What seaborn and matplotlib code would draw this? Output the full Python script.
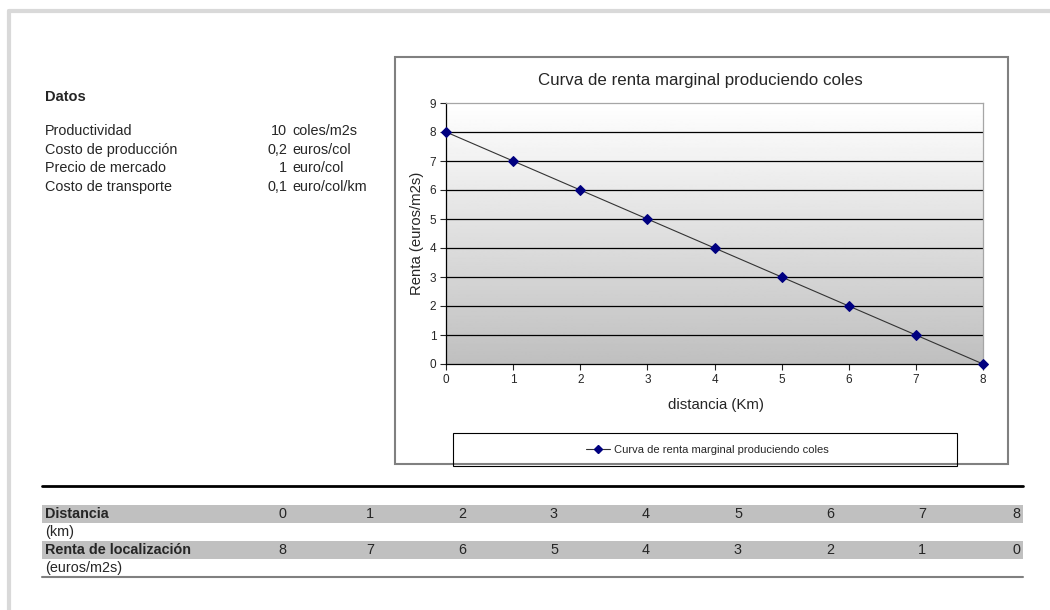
import numpy as np
import pandas as pd
import matplotlib.pyplot as plt
import seaborn as sns
from matplotlib.patches import Rectangle
from matplotlib.lines import Line2D

# datos del grafico
distancia = [0, 1, 2, 3, 4, 5, 6, 7, 8]
renta = [8, 7, 6, 5, 4, 3, 2, 1, 0]
datos_nombres = ['Productividad', 'Costo de producción', 'Precio de mercado', 'Costo de transporte']
datos_valores = ['10', '0,2', '1', '0,1']
datos_unidades = ['coles/m2s', 'euros/col', 'euro/col', 'euro/col/km']
serie = 'Curva de renta marginal produciendo coles'

sns.set_style('white')
plt.rcParams['font.family'] = ['Liberation Sans', 'DejaVu Sans']

W, H = 1050, 610
fig = plt.figure(figsize=(W / 100, H / 100), dpi=100)


def fx(x):
    return x / W


def fy(y):
    return 1 - y / H


def ftext(x, y, s, **kw):
    fig.text(fx(x), fy(y), s, va='center', **kw)


# borde de la pagina
fig.add_artist(Line2D([fx(9), 1], [fy(11), fy(11)], color='#d9d9d9', lw=3))
fig.add_artist(Line2D([fx(9), fx(9)], [fy(11), 0], color='#d9d9d9', lw=3))

# bloque de datos
ftext(45, 97, 'Datos', fontsize=10.5, fontweight='bold')
for i, (n, v, u) in enumerate(zip(datos_nombres, datos_valores, datos_unidades)):
    y = 131 + i * 18.7
    ftext(45, y, n, fontsize=10.4)
    ftext(287, y, v, fontsize=10.4, ha='right')
    ftext(292, y, u, fontsize=10.4)

# marco del grafico
fig.add_artist(Rectangle((fx(395), fy(464)), fx(1008 - 395), (464 - 57) / H,
                         transform=fig.transFigure, fill=False, ec='#808080', lw=1.5, zorder=0))
ftext(700, 80, 'Curva de renta marginal produciendo coles', fontsize=12.2, ha='center')

ax = fig.add_axes([fx(446), fy(364), fx(983 - 446), (364 - 103) / H])
grad = np.linspace(1.0, 0.75, 256).reshape(-1, 1)
ax.imshow(grad, cmap='gray', vmin=0, vmax=1, extent=(0, 8, 0, 9), aspect='auto', zorder=0)

df = pd.DataFrame({'distancia': distancia, 'renta': renta})
sns.lineplot(data=df, x='distancia', y='renta', ax=ax, color='#333333', lw=0.8,
             marker='D', markersize=5, markerfacecolor='#000080', markeredgecolor='#000080',
             zorder=3, clip_on=False)

ax.set_xlim(0, 8)
ax.set_ylim(0, 9)
ax.set_xticks(range(0, 9))
ax.set_yticks(range(0, 10))
for v in range(1, 9):
    ax.axhline(v, color='black', lw=0.9, zorder=1)
ax.tick_params(axis='both', labelsize=8.5, length=4, width=0.8, direction='out',
               bottom=True, left=True, pad=3)
ax.spines['left'].set_color('black')
ax.spines['bottom'].set_color('black')
ax.spines['top'].set_color('#a6a6a6')
ax.spines['right'].set_color('#a6a6a6')
for s in ax.spines.values():
    s.set_linewidth(0.9)
ax.set_xlabel('')
ax.set_ylabel('')
ftext(716, 405, 'distancia (Km)', fontsize=10.8, ha='center')
fig.text(fx(417), fy(233), 'Renta (euros/m2s)', fontsize=10.7, rotation=90, ha='center', va='center')

# leyenda
fig.add_artist(Rectangle((fx(453), fy(466)), fx(957 - 453), (466 - 433) / H,
                         transform=fig.transFigure, fill=False, ec='black', lw=0.8))
h = Line2D([], [], color='#333333', lw=0.8, marker='D', markersize=4,
           markerfacecolor='#000080', markeredgecolor='#000080')
fig.legend([h], [serie], loc='center', bbox_to_anchor=(fx(707), fy(450)), frameon=False,
           fontsize=8, handlelength=2.2, handletextpad=0.3)

# tabla inferior
fig.add_artist(Line2D([fx(42), fx(1023)], [fy(486), fy(486)], color='black', lw=2))
fig.add_artist(Rectangle((fx(42), fy(523)), fx(1023 - 42), 18 / H,
                         transform=fig.transFigure, color='#c0c0c0', lw=0))
fig.add_artist(Rectangle((fx(42), fy(559)), fx(1023 - 42), 18 / H,
                         transform=fig.transFigure, color='#c0c0c0', lw=0))
fig.add_artist(Line2D([fx(42), fx(1023)], [fy(577), fy(577)], color='#808080', lw=1.5))
ftext(45, 514, 'Distancia', fontsize=10.4, fontweight='bold')
ftext(45, 532, '(km)', fontsize=10.4)
ftext(45, 550, 'Renta de localización', fontsize=10.4, fontweight='bold')
ftext(45, 568, '(euros/m2s)', fontsize=10.4)
col_x = [286, 374, 466, 558, 650, 742, 834, 926, 1020]
for cx, d, r in zip(col_x, distancia, renta):
    ftext(cx, 514, str(d), fontsize=10.4, ha='right')
    ftext(cx, 550, str(r), fontsize=10.4, ha='right')

fig.savefig('out.png', dpi=100)
